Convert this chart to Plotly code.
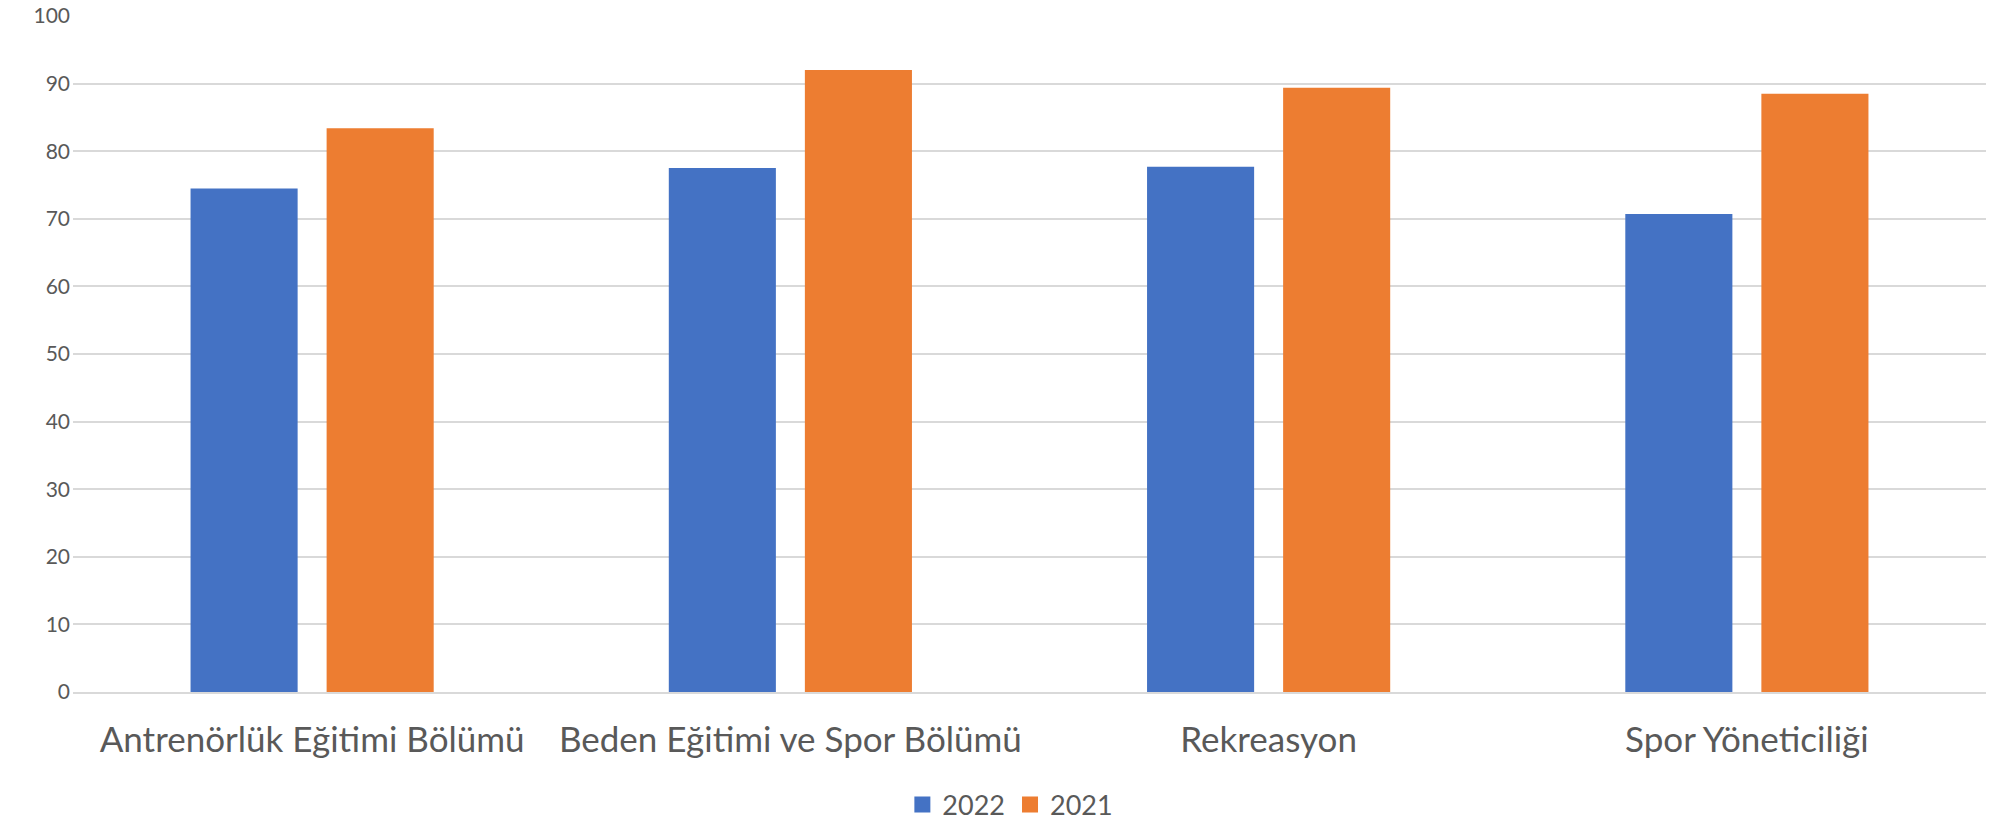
import plotly.graph_objects as go

categories = ["Antrenörlük Eğitimi Bölümü", "Beden Eğitimi ve Spor Bölümü", "Rekreasyon", "Spor Yöneticiliği"]
series_names = ["2022", "2021"]
values_2022 = [74.5, 77.5, 77.7, 70.7]
values_2021 = [83.4, 92.0, 89.4, 88.5]
colors = ["#4472C4", "#ED7D31"]
tick_vals = [0, 10, 20, 30, 40, 50, 60, 70, 80, 90, 100]

fig = go.Figure()
for name, vals, col in zip(series_names, [values_2022, values_2021], colors):
    fig.add_trace(go.Bar(name=name, x=categories, y=vals, marker_color=col,
                         marker_line_width=0, showlegend=False))
for name, col in zip(series_names, colors):
    fig.add_trace(go.Scatter(name=name, x=[None], y=[None], mode="markers",
                             marker=dict(symbol="square", size=16, color=col), showlegend=True))

font_family = "Lato, Carlito, Calibri, sans-serif"
fig.update_layout(
    width=1990, height=821,
    margin=dict(l=73, r=4, t=16, b=129, autoexpand=False),
    paper_bgcolor="white", plot_bgcolor="white",
    barmode="group", bargap=0.431, bargroupgap=0.213,
    font=dict(family=font_family, color="#595959"),
    showlegend=True,
    legend=dict(orientation="h", x=0.49, xanchor="center", y=-0.167, yanchor="middle",
                font=dict(size=27, color="#595959"), itemwidth=30, tracegroupgap=0),
)
fig.update_yaxes(range=[0, 100], tickvals=tick_vals, showgrid=True, gridcolor="#d9d9d9", gridwidth=1.5,
                 zeroline=False, showline=False, ticks="", tickfont=dict(size=21, color="#595959"),
                 ticklabelstandoff=2)
fig.update_xaxes(showline=True, linecolor="#d9d9d9", linewidth=1.5, ticks="",
                 tickfont=dict(size=35, color="#595959"), ticklabelstandoff=16)

fig.write_html("out.html", config={"displayModeBar": False},
               post_script="document.body.style.margin='0';document.body.style.overflow='hidden';")
